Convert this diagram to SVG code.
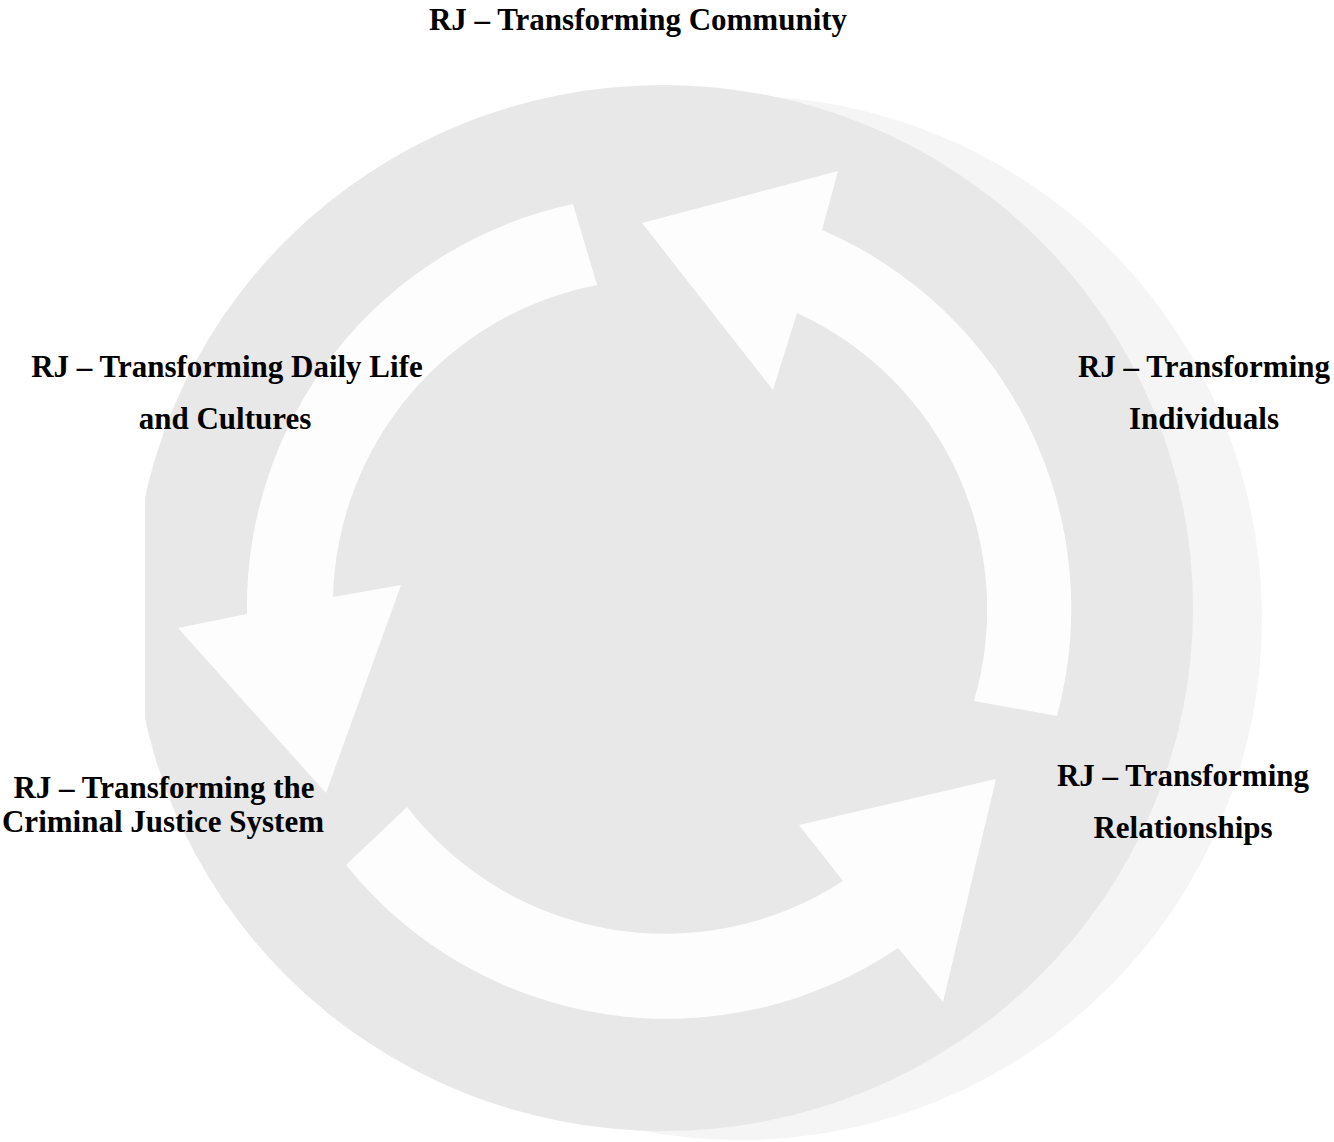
<svg xmlns="http://www.w3.org/2000/svg" width="1334" height="1142" viewBox="0 0 1334 1142">
  <style>
    .lbl { font-family: "Liberation Serif", "Times New Roman", serif; font-weight: bold; font-size: 31px; fill: #000; text-anchor: middle; }
    .arrow { fill: #fdfdfd; stroke: none; }
  </style>
  <defs>
    <clipPath id="leftcut">
      <rect x="145" y="0" width="1189" height="1142"/>
    </clipPath>
  </defs>
  <rect x="0" y="0" width="1334" height="1142" fill="#ffffff"/>
  <g id="backdrop" clip-path="url(#leftcut)">
    <circle cx="740" cy="618" r="522" fill="#f5f5f5"/>
    <ellipse cx="663" cy="608" rx="530" ry="523" fill="#e8e8e8"/>
  </g>
  <g id="connectors">
    <path class="arrow" d="M 1057,716 A 412 412 0 0 0 822,230 L 838,171 L 642,223 L 773,390 L 797,313 A 326 326 0 0 1 974,701 Z"/>
    <path class="arrow" d="M 573,204 A 412 412 0 0 0 247,614 L 178,628 L 326,793 L 401,585 L 333,597 A 326 326 0 0 1 597,285 Z"/>
    <path class="arrow" d="M 346,865 A 412 412 0 0 0 898,948 L 943,1002 L 996,779 L 799,825 L 843,881 A 326 326 0 0 1 407,807 Z"/>
  </g>
  <g id="node-community">
    <text class="lbl" x="638" y="30">RJ – Transforming Community</text>
  </g>
  <g id="node-individuals">
    <text class="lbl" x="1204" y="377">RJ – Transforming</text>
    <text class="lbl" x="1204" y="429">Individuals</text>
  </g>
  <g id="node-relationships">
    <text class="lbl" x="1183" y="786">RJ – Transforming</text>
    <text class="lbl" x="1183" y="838">Relationships</text>
  </g>
  <g id="node-cjs">
    <text class="lbl" x="164" y="798">RJ – Transforming the</text>
    <text class="lbl" x="163" y="832">Criminal Justice System</text>
  </g>
  <g id="node-daily-life">
    <text class="lbl" x="227" y="377">RJ – Transforming Daily Life</text>
    <text class="lbl" x="225" y="429">and Cultures</text>
  </g>
</svg>
